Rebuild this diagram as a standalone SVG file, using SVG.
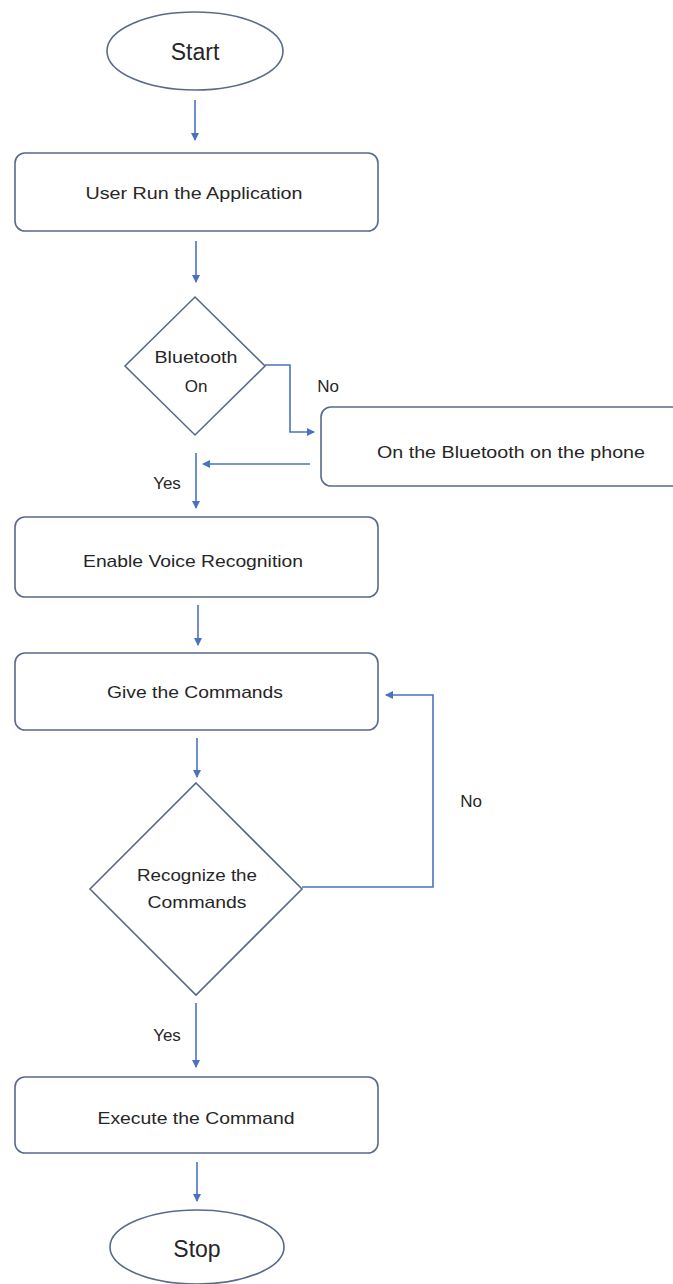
<svg xmlns="http://www.w3.org/2000/svg" width="673" height="1284" viewBox="0 0 673 1284">
<style>
.shape{fill:#ffffff;stroke:#5a6a8a;stroke-width:1.6}
.conn{fill:none;stroke:#4a72c0;stroke-width:1.6}
.t{font-family:"Liberation Sans",Arial,sans-serif;font-size:17px;fill:#262626;text-anchor:middle}
.big{font-family:"Liberation Sans",Arial,sans-serif;font-size:23px;fill:#262626;text-anchor:middle}
</style>
<defs>
<marker id="ah" markerWidth="8" markerHeight="8" refX="7" refY="4" orient="auto" markerUnits="userSpaceOnUse">
<path d="M0,0 L8,4 L0,8 Z" fill="#4a72c0"/>
</marker>
</defs>
<rect width="673" height="1284" fill="#ffffff"/>
<g id="connectors">
<line class="conn" x1="195" y1="100" x2="195" y2="140" marker-end="url(#ah)"/>
<line class="conn" x1="196" y1="241" x2="196" y2="282" marker-end="url(#ah)"/>
<polyline class="conn" points="265,365 290,365 290,432 314,432" marker-end="url(#ah)"/>
<line class="conn" x1="310" y1="464" x2="203" y2="464" marker-end="url(#ah)"/>
<line class="conn" x1="196" y1="453" x2="196" y2="508" marker-end="url(#ah)"/>
<line class="conn" x1="198" y1="605" x2="198" y2="645" marker-end="url(#ah)"/>
<line class="conn" x1="197" y1="738" x2="197" y2="777" marker-end="url(#ah)"/>
<polyline class="conn" points="302,887 433,887 433,695 386,695" marker-end="url(#ah)"/>
<line class="conn" x1="196" y1="1003" x2="196" y2="1067" marker-end="url(#ah)"/>
<line class="conn" x1="197" y1="1162" x2="197" y2="1201" marker-end="url(#ah)"/>
<text class="t" x="328" y="392">No</text>
<text class="t" x="167" y="489">Yes</text>
<text class="t" x="471" y="807">No</text>
<text class="t" x="167" y="1041">Yes</text>
</g>
<g id="start">
<ellipse class="shape" cx="195" cy="51" rx="88" ry="39"/>
<text class="big" x="195" y="60">Start</text>
</g>
<g id="run-app">
<rect class="shape" x="15" y="153" width="363" height="78" rx="10"/>
<text class="t" x="194" y="199" textLength="217" lengthAdjust="spacingAndGlyphs">User Run the Application</text>
</g>
<g id="bt-decision">
<polygon class="shape" points="195,297 265,366 195,435 125,366"/>
<text class="t" x="196" y="363" textLength="83" lengthAdjust="spacingAndGlyphs">Bluetooth</text>
<text class="t" x="196" y="392">On</text>
</g>
<g id="bt-on">
<rect class="shape" x="321" y="407" width="366" height="79" rx="10"/>
<text class="t" x="511" y="458" textLength="268" lengthAdjust="spacingAndGlyphs">On the Bluetooth on the phone</text>
</g>
<g id="enable-voice">
<rect class="shape" x="15" y="517" width="363" height="80" rx="10"/>
<text class="t" x="193" y="567" textLength="220" lengthAdjust="spacingAndGlyphs">Enable Voice Recognition</text>
</g>
<g id="give-commands">
<rect class="shape" x="15" y="653" width="363" height="77" rx="10"/>
<text class="t" x="195" y="698" textLength="176" lengthAdjust="spacingAndGlyphs">Give the Commands</text>
</g>
<g id="recognize">
<polygon class="shape" points="196,783 302,889 196,995 90,889"/>
<text class="t" x="197" y="881" textLength="120" lengthAdjust="spacingAndGlyphs">Recognize the</text>
<text class="t" x="197" y="908" textLength="99" lengthAdjust="spacingAndGlyphs">Commands</text>
</g>
<g id="execute">
<rect class="shape" x="15" y="1077" width="363" height="76" rx="10"/>
<text class="t" x="196" y="1124" textLength="197" lengthAdjust="spacingAndGlyphs">Execute the Command</text>
</g>
<g id="stop">
<ellipse class="shape" cx="197" cy="1247" rx="87" ry="37"/>
<text class="big" x="197" y="1257">Stop</text>
</g>
</svg>
